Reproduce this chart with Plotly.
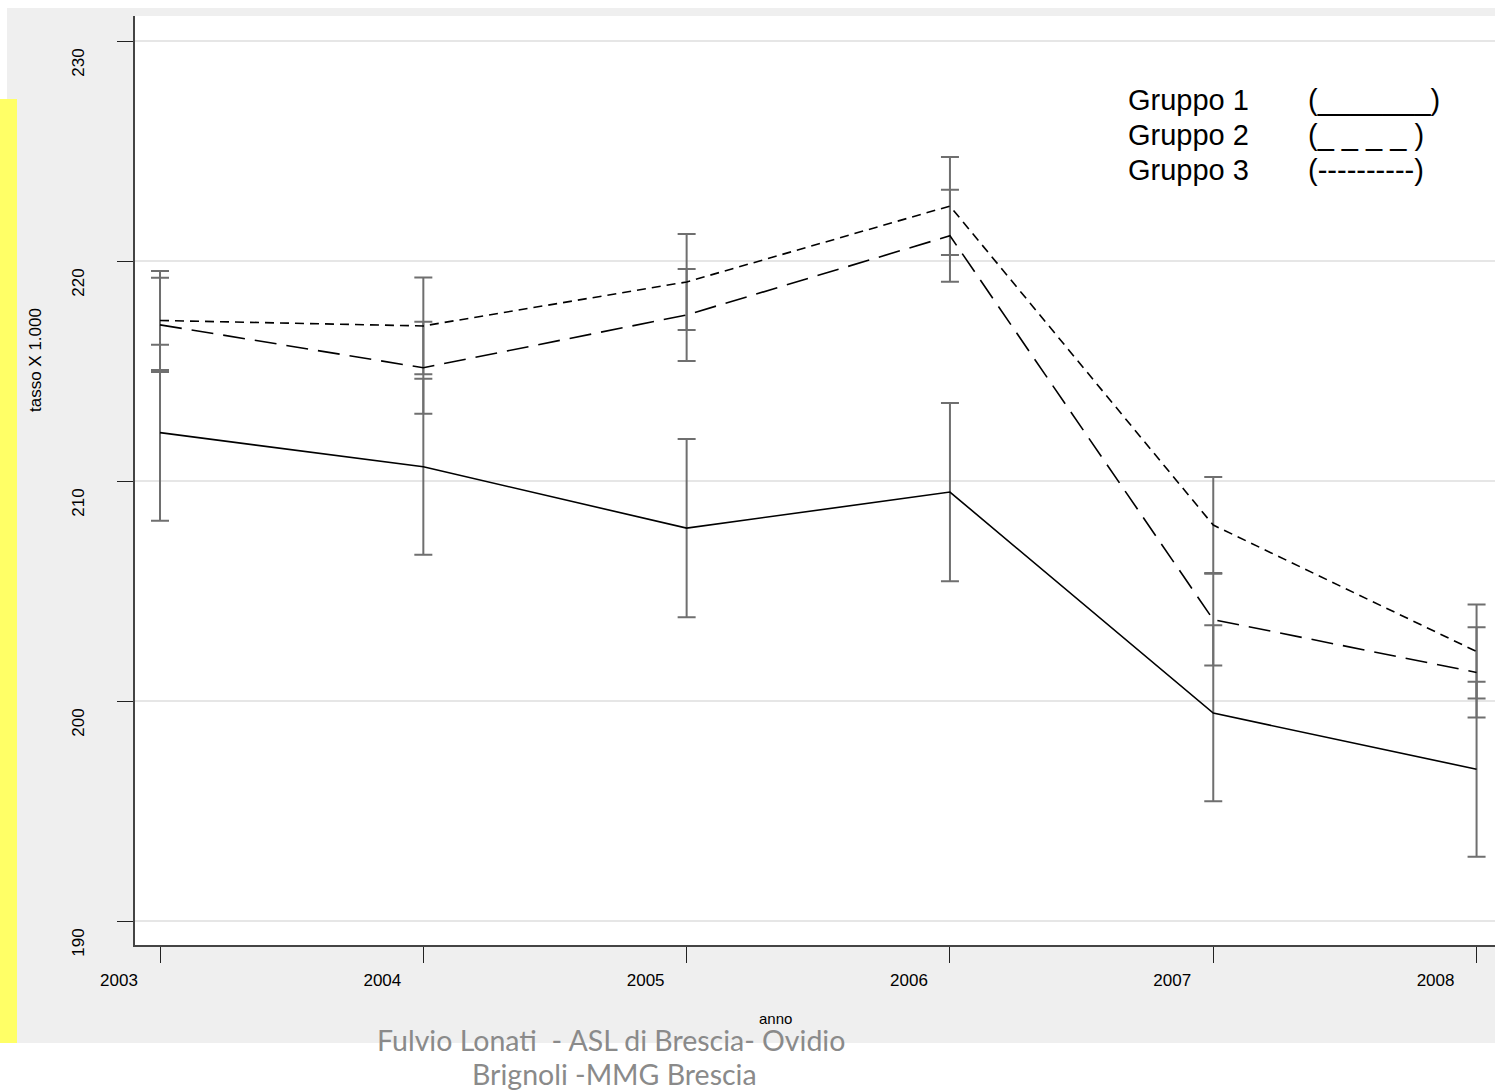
import plotly.graph_objects as go

# Rates per 1,000 by year for the three groups, with error-bar half widths
years = [2003, 2004, 2005, 2006, 2007, 2008]
g1 = [212.2, 210.65, 207.86, 209.5, 199.45, 196.9]
g1_err = [4.0, 4.0, 4.05, 4.05, 4.0, 3.98]
g2 = [217.1, 215.15, 217.55, 221.15, 203.7, 201.3]
g2_err = [2.14, 2.09, 2.09, 2.09, 2.09, 2.05]
g3 = [217.3, 217.05, 219.05, 222.5, 208.0, 202.25]
g3_err = [2.25, 2.2, 2.18, 2.23, 2.18, 2.14]

y_ticks = [190, 200, 210, 220, 230]
legend_names = ["Gruppo 1", "Gruppo 2", "Gruppo 3"]
legend_marks = ["(_______)", "(_ _ _ _ )", "(----------)"]
footer_lines = ["Fulvio Lonati  - ASL di Brescia- Ovidio", "Brignoli -MMG Brescia"]

W, H = 1495, 1091
ML, MR, MT, MB = 135, 0, 16, 146
PW, PH = W - ML - MR, H - MT - MB


def px(x):
    return (x - ML) / PW


def py(y):
    return (H - MB - y) / PH


series = [(g1, g1_err, "solid"), (g2, g2_err, "22px,10px"), (g3, g3_err, "9px,6px")]

fig = go.Figure()

# error bars first, so the lines sit on top
for vals, errs, _ in series:
    fig.add_trace(go.Scatter(
        x=years, y=vals, mode="markers",
        marker=dict(size=1, color="rgba(0,0,0,0)"),
        error_y=dict(type="data", array=errs, color="#6f6f6f", thickness=2, width=9),
        hoverinfo="skip", showlegend=False,
    ))

for (vals, errs, dash), name in zip(series, legend_names):
    fig.add_trace(go.Scatter(
        x=years, y=vals, mode="lines", name=name,
        line=dict(color="black", width=1.6, dash=dash),
        showlegend=False,
    ))

shapes = [
    # grey graph region
    dict(type="rect", xref="paper", yref="paper", x0=px(7), x1=px(W), y0=py(1043), y1=py(8),
         fillcolor="#efefef", line=dict(width=0), layer="below"),
    # white plot region
    dict(type="rect", xref="paper", yref="paper", x0=0, x1=1, y0=0, y1=1,
         fillcolor="white", line=dict(width=0), layer="below"),
    # yellow strip on the left edge
    dict(type="rect", xref="paper", yref="paper", x0=px(0), x1=px(17), y0=py(1043), y1=py(99),
         fillcolor="#ffff66", line=dict(width=0), layer="below"),
]

annotations = []
row_y = [100, 135, 170]
for name, mark, ry in zip(legend_names, legend_marks, row_y):
    annotations.append(dict(xref="paper", yref="paper", x=px(1126), y=py(ry), text=name,
                            showarrow=False, xanchor="left", yanchor="middle",
                            font=dict(family="Liberation Sans", size=29, color="black")))
    annotations.append(dict(xref="paper", yref="paper", x=px(1306), y=py(ry), text=mark,
                            showarrow=False, xanchor="left", yanchor="middle",
                            font=dict(family="Liberation Sans", size=29, color="black")))

# axis titles
annotations.append(dict(xref="paper", yref="paper", x=px(36), y=py(360), text="tasso X 1.000",
                        textangle=-90, showarrow=False, xanchor="center", yanchor="middle",
                        font=dict(family="Liberation Sans", size=17, color="black")))
annotations.append(dict(xref="paper", yref="paper", x=px(775), y=py(1018), text="anno",
                        showarrow=False, xanchor="center", yanchor="middle",
                        font=dict(family="Liberation Sans", size=15, color="black")))

# footer credit
annotations.append(dict(xref="paper", yref="paper", x=px(611), y=py(1040), text=footer_lines[0],
                        showarrow=False, xanchor="center", yanchor="middle",
                        font=dict(family="Lato", size=28.5, color="#8a8a8a")))
annotations.append(dict(xref="paper", yref="paper", x=px(614), y=py(1074), text=footer_lines[1],
                        showarrow=False, xanchor="center", yanchor="middle",
                        font=dict(family="Lato", size=28.5, color="#8a8a8a")))

fig.update_layout(
    width=W, height=H,
    margin=dict(l=ML, r=MR, t=MT, b=MB, pad=0),
    paper_bgcolor="white", plot_bgcolor="white",
    shapes=shapes, annotations=annotations,
    showlegend=False,
    font=dict(family="Liberation Sans", size=17, color="black"),
)

fig.update_xaxes(
    range=[2002.905, 2008.07], tickvals=years, ticktext=[str(y) for y in years],
    showgrid=False, zeroline=False, showline=True, linecolor="#444", linewidth=1.5,
    ticks="outside", ticklen=16, tickwidth=1.2, tickcolor="#222",
    ticklabelshift=-41, ticklabelstandoff=3,
    tickfont=dict(family="Liberation Sans", size=17, color="black"),
)
fig.update_yaxes(
    range=[188.91, 231.14], tickvals=y_ticks, ticktext=[str(v) for v in y_ticks],
    showgrid=True, gridcolor="#e6e6e6", gridwidth=1.5, zeroline=False,
    showline=True, linecolor="#444", linewidth=1.5,
    ticks="outside", ticklen=16, tickwidth=1.2, tickcolor="#222",
    tickangle=-90, ticklabelshift=24, ticklabelstandoff=26,
    tickfont=dict(family="Liberation Sans", size=17, color="black"),
)

fig.write_html("out.html")
